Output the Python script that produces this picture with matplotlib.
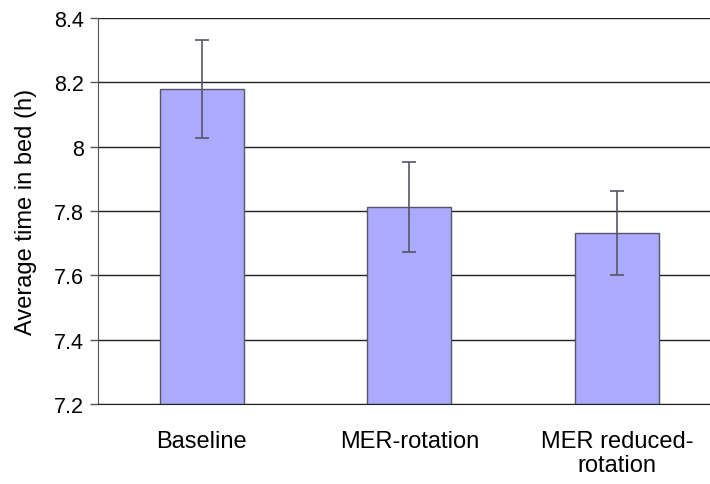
import matplotlib
matplotlib.use("Agg")
import matplotlib.pyplot as plt

categories = ["Baseline", "MER-rotation", "MER reduced-\nrotation"]
means = [8.18, 7.812, 7.731]
errors = [0.152, 0.14, 0.13]
yticks = [7.2, 7.4, 7.6, 7.8, 8.0, 8.2, 8.4]
ytick_labels = ["7.2", "7.4", "7.6", "7.8", "8", "8.2", "8.4"]

plt.rcParams['font.family'] = ['Liberation Sans', 'DejaVu Sans']

fig = plt.figure(figsize=(7.1, 4.85), dpi=100)
ax = fig.add_axes([98/710, 80/485, 622.5/710, 386/485])

x = list(range(len(categories)))
ax.set_axisbelow(True)
ax.yaxis.grid(True, color="#222222", linewidth=1.0)
ax.bar(x, [m - 7.2 for m in means], bottom=7.2, width=0.405, color="#aaaaff",
       edgecolor="#555566", linewidth=1.0, zorder=2)
ax.errorbar(x, means, yerr=errors, fmt="none", ecolor="#555566", elinewidth=1.2,
            capsize=5, capthick=1.2, zorder=3)

ax.set_xlim(-0.5, 2.5)
ax.set_ylim(7.2, 8.4)
ax.set_yticks(yticks)
ax.set_yticklabels(ytick_labels, fontsize=15.5)
ax.set_xticks(x)
ax.set_xticklabels(categories, fontsize=17, linespacing=1.12)
ax.tick_params(axis="x", length=0, pad=19)
ax.tick_params(axis="y", length=6, width=1, color="#555555", pad=4)
ax.set_ylabel("Average time in bed (h)", fontsize=17, labelpad=12)

for s in ["top", "right"]:
    ax.spines[s].set_visible(False)
ax.spines["left"].set_color("#555555")
ax.spines["bottom"].set_color("#222222")

fig.savefig("out.png", dpi=100)
